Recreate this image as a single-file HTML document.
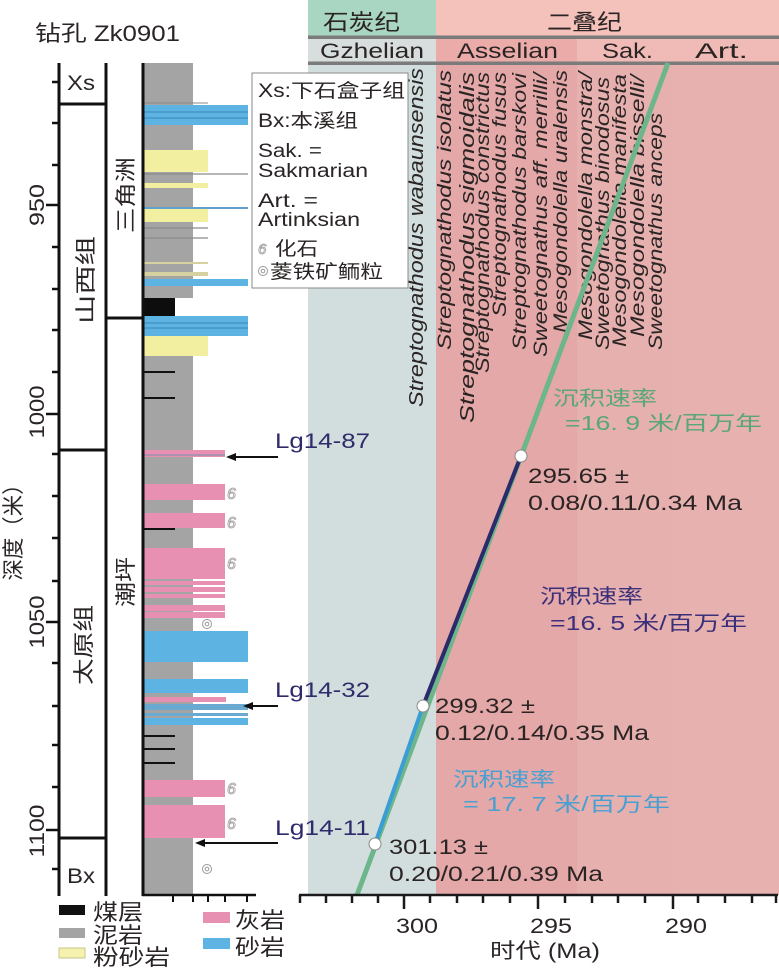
<!DOCTYPE html>
<html><head><meta charset="utf-8"><style>
html,body{margin:0;padding:0;background:#fff;}
svg{display:block;}
text{font-family:"Liberation Sans","Noto Sans CJK SC",sans-serif;}
.sp{font-style:italic;font-size:19px;fill:#2a2424;}
</style></head><body>
<svg width="779" height="969" viewBox="0 0 779 969" xmlns="http://www.w3.org/2000/svg">
<rect x="0" y="0" width="779" height="969" fill="#fff"/>

<!-- ===== Chart backgrounds ===== -->
<rect x="308" y="0" width="128" height="36" fill="#a9d6c3"/>
<rect x="436" y="0" width="343" height="36" fill="#f5c1bb"/>
<rect x="308" y="39" width="128" height="23" fill="#d8dede"/>
<rect x="436" y="39" width="141" height="23" fill="#eaaba9"/>
<rect x="577" y="39" width="96" height="23" fill="#f0bbb7"/>
<rect x="673" y="39" width="106" height="23" fill="#f0bbb7"/>
<rect x="308" y="64" width="128" height="831" fill="#d2dede"/>
<rect x="436" y="64" width="141" height="831" fill="#e3a8a7"/>
<rect x="577" y="64" width="96" height="831" fill="#e6b0ae"/>
<rect x="673" y="64" width="106" height="831" fill="#e6b1af"/>
<rect x="308" y="35.5" width="471" height="3.5" fill="#7b7b7b"/>
<rect x="308" y="61.5" width="471" height="3.5" fill="#7b7b7b"/>

<!-- header text -->
<text x="323" y="30" font-size="22" fill="#2a2424" textLength="77" lengthAdjust="spacingAndGlyphs">石炭纪</text>
<text x="547" y="30" font-size="22" fill="#2a2424" textLength="75" lengthAdjust="spacingAndGlyphs">二叠纪</text>
<text x="320" y="58" font-size="21" fill="#2a2424" textLength="104" lengthAdjust="spacingAndGlyphs">Gzhelian</text>
<text x="457" y="58" font-size="21" fill="#2a2424" textLength="101" lengthAdjust="spacingAndGlyphs">Asselian</text>
<text x="602" y="58" font-size="21" fill="#2a2424" textLength="51" lengthAdjust="spacingAndGlyphs">Sak.</text>
<text x="695" y="58" font-size="21" fill="#2a2424" textLength="53" lengthAdjust="spacingAndGlyphs">Art.</text>

<!-- species labels -->
<g class="sp">
<text transform="translate(423,407) rotate(-90)" font-size="20" textLength="339" lengthAdjust="spacingAndGlyphs">Streptognathodus wabaunsensis</text>
<text transform="translate(451,350) rotate(-90)" textLength="280" lengthAdjust="spacingAndGlyphs">Streptognathodus isolatus</text>
<text transform="translate(474,423) rotate(-90)" font-size="20" textLength="351" lengthAdjust="spacingAndGlyphs">Streptognathodus sigmoidalis</text>
<text transform="translate(489,373) rotate(-90)" textLength="301" lengthAdjust="spacingAndGlyphs">Streptognathodus constrictus</text>
<text transform="translate(506,317) rotate(-90)" textLength="245" lengthAdjust="spacingAndGlyphs">Streptognathodus fusus</text>
<text transform="translate(526,350) rotate(-90)" textLength="277" lengthAdjust="spacingAndGlyphs">Streptognathodus barskovi</text>
<text transform="translate(547,357) rotate(-90)" textLength="284" lengthAdjust="spacingAndGlyphs">Sweetognathus aff. merrilli/</text>
<text transform="translate(567,333) rotate(-90)" textLength="263" lengthAdjust="spacingAndGlyphs">Mesogondolella uralensis</text>
<text transform="translate(592,340) rotate(-90)" textLength="268" lengthAdjust="spacingAndGlyphs">Mesogondolella monstra/</text>
<text transform="translate(609,350) rotate(-90)" textLength="273" lengthAdjust="spacingAndGlyphs">Sweetognathus binodosus</text>
<text transform="translate(626,347) rotate(-90)" textLength="273" lengthAdjust="spacingAndGlyphs">Mesogondolella manifesta</text>
<text transform="translate(644,337) rotate(-90)" textLength="262" lengthAdjust="spacingAndGlyphs">Mesogondolella bisselli/</text>
<text transform="translate(662,350) rotate(-90)" textLength="237" lengthAdjust="spacingAndGlyphs">Sweetognathus anceps</text>
</g>

<!-- regression lines -->
<line x1="668" y1="63" x2="357" y2="895" stroke="#6db68b" stroke-width="5"/>
<line x1="521" y1="456" x2="423" y2="706" stroke="#2b2a6a" stroke-width="4"/>
<line x1="423" y1="706" x2="375" y2="844" stroke="#3a9dd4" stroke-width="4"/>
<circle cx="521" cy="456" r="6" fill="#fff" stroke="#8a8a8a" stroke-width="1"/>
<circle cx="423" cy="706" r="6" fill="#fff" stroke="#8a8a8a" stroke-width="1"/>
<circle cx="375" cy="844" r="6" fill="#fff" stroke="#8a8a8a" stroke-width="1"/>

<!-- date labels -->
<g font-size="21" fill="#2a2424">
<text x="528" y="483" textLength="101" lengthAdjust="spacingAndGlyphs">295.65 ±</text>
<text x="528" y="510" textLength="214" lengthAdjust="spacingAndGlyphs">0.08/0.11/0.34 Ma</text>
<text x="435" y="713" textLength="100" lengthAdjust="spacingAndGlyphs">299.32 ±</text>
<text x="435" y="740" textLength="214" lengthAdjust="spacingAndGlyphs">0.12/0.14/0.35 Ma</text>
<text x="389" y="854" textLength="99" lengthAdjust="spacingAndGlyphs">301.13 ±</text>
<text x="389" y="881" textLength="214" lengthAdjust="spacingAndGlyphs">0.20/0.21/0.39 Ma</text>
</g>

<!-- rate labels -->
<g font-size="20">
<text x="553" y="405" fill="#5aa67a" textLength="104" lengthAdjust="spacingAndGlyphs">沉积速率</text>
<text x="565" y="430" fill="#5aa67a" textLength="197" lengthAdjust="spacingAndGlyphs">=16. 9 米/百万年</text>
<text x="540" y="603" fill="#3b2f7a" textLength="103" lengthAdjust="spacingAndGlyphs">沉积速率</text>
<text x="550" y="630" fill="#3b2f7a" textLength="197" lengthAdjust="spacingAndGlyphs">=16. 5 米/百万年</text>
<text x="453" y="786" fill="#4a9fd2" textLength="102" lengthAdjust="spacingAndGlyphs">沉积速率</text>
<text x="463" y="811" fill="#4a9fd2" textLength="207" lengthAdjust="spacingAndGlyphs">= 17. 7 米/百万年</text>
</g>

<!-- x axis -->
<g stroke="#1a1a1a" stroke-width="2.5">
<line x1="299" y1="895" x2="778" y2="895"/>
<line x1="300" y1="895" x2="300" y2="903"/>
<line x1="326" y1="895" x2="326" y2="903"/>
<line x1="352" y1="895" x2="352" y2="903"/>
<line x1="378" y1="895" x2="378" y2="903"/>
<line x1="404" y1="895" x2="404" y2="909"/>
<line x1="430" y1="895" x2="430" y2="903"/>
<line x1="457" y1="895" x2="457" y2="903"/>
<line x1="483" y1="895" x2="483" y2="903"/>
<line x1="510" y1="895" x2="510" y2="903"/>
<line x1="538" y1="895" x2="538" y2="909"/>
<line x1="565" y1="895" x2="565" y2="903"/>
<line x1="592" y1="895" x2="592" y2="903"/>
<line x1="618" y1="895" x2="618" y2="903"/>
<line x1="645" y1="895" x2="645" y2="903"/>
<line x1="673" y1="895" x2="673" y2="909"/>
<line x1="698" y1="895" x2="698" y2="903"/>
<line x1="725" y1="895" x2="725" y2="903"/>
<line x1="752" y1="895" x2="752" y2="903"/>
<line x1="776" y1="895" x2="776" y2="903"/>
</g>
<g font-size="21" fill="#2a2424" text-anchor="middle">
<text x="417" y="933" textLength="42" lengthAdjust="spacingAndGlyphs">300</text>
<text x="551" y="933" textLength="42" lengthAdjust="spacingAndGlyphs">295</text>
<text x="686" y="933" textLength="42" lengthAdjust="spacingAndGlyphs">290</text>
<text x="545" y="958" textLength="110" lengthAdjust="spacingAndGlyphs">时代 (Ma)</text>
</g>

<!-- ===== Left: title ===== -->
<text x="35" y="41" font-size="22" fill="#2a2424" textLength="145" lengthAdjust="spacingAndGlyphs">钻孔 Zk0901</text>

<!-- depth axis -->
<g stroke="#111" stroke-width="3">
<line x1="59" y1="63" x2="59" y2="896"/>
<line x1="106" y1="63" x2="106" y2="896"/>
<line x1="59" y1="104" x2="106" y2="104"/>
<line x1="106" y1="318" x2="143" y2="318"/>
<line x1="59" y1="450" x2="106" y2="450"/>
<line x1="59" y1="838" x2="106" y2="838"/>
</g>
<g stroke="#111" stroke-width="2.5">
<line x1="52" y1="82" x2="59" y2="82"/>
<line x1="52" y1="123" x2="59" y2="123"/>
<line x1="52" y1="165" x2="59" y2="165"/>
<line x1="46" y1="205" x2="59" y2="205"/>
<line x1="52" y1="247" x2="59" y2="247"/>
<line x1="52" y1="289" x2="59" y2="289"/>
<line x1="52" y1="330" x2="59" y2="330"/>
<line x1="52" y1="372" x2="59" y2="372"/>
<line x1="46" y1="414" x2="59" y2="414"/>
<line x1="52" y1="454" x2="59" y2="454"/>
<line x1="52" y1="496" x2="59" y2="496"/>
<line x1="52" y1="538" x2="59" y2="538"/>
<line x1="52" y1="581" x2="59" y2="581"/>
<line x1="46" y1="622" x2="59" y2="622"/>
<line x1="52" y1="663" x2="59" y2="663"/>
<line x1="52" y1="706" x2="59" y2="706"/>
<line x1="52" y1="745" x2="59" y2="745"/>
<line x1="52" y1="787" x2="59" y2="787"/>
<line x1="46" y1="830" x2="59" y2="830"/>
<line x1="52" y1="869" x2="59" y2="869"/>
</g>
<g font-size="21" fill="#2a2424" text-anchor="middle">
<text transform="translate(44,205) rotate(-90)" textLength="42" lengthAdjust="spacingAndGlyphs">950</text>
<text transform="translate(44,412) rotate(-90)" textLength="53" lengthAdjust="spacingAndGlyphs">1000</text>
<text transform="translate(44,622) rotate(-90)" textLength="53" lengthAdjust="spacingAndGlyphs">1050</text>
<text transform="translate(44,831) rotate(-90)" textLength="53" lengthAdjust="spacingAndGlyphs">1100</text>
<text transform="translate(21,527) rotate(-90)" font-size="22" textLength="107" lengthAdjust="spacingAndGlyphs">深度（米）</text>
<text transform="translate(93,280) rotate(-90)" textLength="88" lengthAdjust="spacingAndGlyphs">山西组</text>
<text transform="translate(91,645) rotate(-90)" textLength="80" lengthAdjust="spacingAndGlyphs">太原组</text>
<text transform="translate(133,195) rotate(-90)" textLength="76" lengthAdjust="spacingAndGlyphs">三角洲</text>
<text transform="translate(133,582) rotate(-90)" textLength="50" lengthAdjust="spacingAndGlyphs">潮坪</text>
</g>
<text x="67" y="90" font-size="21" fill="#2a2424" textLength="28" lengthAdjust="spacingAndGlyphs">Xs</text>
<text x="67" y="883" font-size="21" fill="#2a2424" textLength="28" lengthAdjust="spacingAndGlyphs">Bx</text>

<!-- ===== Lithology column ===== -->
<rect x="144" y="63" width="49" height="235" fill="#a4a4a4"/>
<rect x="144" y="316" width="49" height="579" fill="#a4a4a4"/>
<rect x="144" y="298" width="31" height="18" fill="#0d0d0d"/>
<!-- upper beds -->
<line x1="144" y1="103" x2="208" y2="103" stroke="#8a8a8a" stroke-width="1"/>
<rect x="144" y="105" width="104" height="20" fill="#5db4e2"/>
<line x1="144" y1="112" x2="248" y2="112" stroke="#3f8fc0" stroke-width="1.2"/>
<line x1="144" y1="118" x2="248" y2="118" stroke="#3f8fc0" stroke-width="1.2"/>
<rect x="144" y="150" width="64" height="22" fill="#f3efa0"/>
<line x1="144" y1="174" x2="248" y2="174" stroke="#8a8a8a" stroke-width="1.2"/>
<rect x="144" y="183" width="64" height="5" fill="#f3efa0"/>
<rect x="144" y="207" width="64" height="15" fill="#f3efa0"/>
<line x1="144" y1="208" x2="248" y2="208" stroke="#5fa3cc" stroke-width="2"/>
<line x1="144" y1="228" x2="208" y2="228" stroke="#8a8a8a" stroke-width="1.2"/>
<line x1="144" y1="238" x2="208" y2="238" stroke="#8a8a8a" stroke-width="1.2"/>
<rect x="144" y="262" width="64" height="2" fill="#d6d2a0"/>
<rect x="144" y="272" width="64" height="4" fill="#d6d2a0"/>
<rect x="144" y="279" width="104" height="7" fill="#5db4e2"/>
<rect x="144" y="316" width="104" height="20" fill="#5db4e2"/>
<line x1="144" y1="323" x2="248" y2="323" stroke="#3f8fc0" stroke-width="1.2"/>
<line x1="144" y1="328" x2="248" y2="328" stroke="#3f8fc0" stroke-width="1.2"/>
<rect x="144" y="336" width="64" height="20" fill="#f3efa0"/>
<line x1="144" y1="372" x2="175" y2="372" stroke="#111" stroke-width="2"/>
<line x1="144" y1="398" x2="175" y2="398" stroke="#111" stroke-width="2"/>
<!-- lower beds -->
<rect x="144" y="450" width="81" height="7" fill="#e890b2"/>
<line x1="144" y1="455" x2="225" y2="455" stroke="#8a8fb0" stroke-width="1.2"/>
<rect x="144" y="484" width="81" height="16" fill="#e890b2"/>
<rect x="144" y="513" width="81" height="15" fill="#e890b2"/>
<line x1="144" y1="529" x2="175" y2="529" stroke="#111" stroke-width="2"/>
<rect x="144" y="548" width="81" height="31" fill="#e890b2"/>
<rect x="144" y="581" width="81" height="4" fill="#e890b2"/>
<rect x="144" y="587" width="81" height="5" fill="#e890b2"/>
<rect x="144" y="594" width="81" height="4" fill="#e890b2"/>
<rect x="144" y="605" width="81" height="6" fill="#e890b2"/>
<rect x="144" y="612" width="81" height="6" fill="#e890b2"/>
<rect x="144" y="631" width="104" height="31" fill="#5db4e2"/>
<rect x="144" y="679" width="104" height="14" fill="#5db4e2"/>
<rect x="144" y="697" width="82" height="5" fill="#e890b2"/>
<rect x="144" y="704" width="104" height="6" fill="#6aaad0"/>
<rect x="144" y="713" width="104" height="3" fill="#6aaad0"/>
<rect x="144" y="718" width="104" height="7" fill="#5db4e2"/>
<line x1="144" y1="736" x2="175" y2="736" stroke="#111" stroke-width="2"/>
<line x1="144" y1="749" x2="175" y2="749" stroke="#111" stroke-width="2"/>
<line x1="144" y1="763" x2="175" y2="763" stroke="#111" stroke-width="2"/>
<rect x="144" y="780" width="81" height="17" fill="#e890b2"/>
<rect x="144" y="805" width="81" height="33" fill="#e890b2"/>
<!-- column border -->
<line x1="143" y1="63" x2="143" y2="896" stroke="#111" stroke-width="3"/>
<line x1="142" y1="895" x2="256" y2="895" stroke="#111" stroke-width="2.5"/>
<g stroke="#111" stroke-width="2">
<line x1="173" y1="895" x2="173" y2="902"/>
<line x1="193" y1="895" x2="193" y2="902"/>
<line x1="208" y1="895" x2="208" y2="902"/>
<line x1="225" y1="895" x2="225" y2="902"/>
<line x1="247" y1="895" x2="247" y2="902"/>
</g>
<!-- fossil & oolite symbols -->
<g font-size="16" font-style="italic" fill="none" stroke="#9a9a9a" stroke-width="0.8">
<text x="227" y="499">6</text>
<text x="227" y="528">6</text>
<text x="227" y="569">6</text>
<text x="227" y="794">6</text>
<text x="227" y="829">6</text>
</g>
<g fill="none" stroke="#9a9a9a" stroke-width="1">
<circle cx="207" cy="624" r="4.5"/><circle cx="207" cy="624" r="1.8"/>
<circle cx="207" cy="869" r="4.5"/><circle cx="207" cy="869" r="1.8"/>
</g>

<!-- sample arrows -->
<g stroke="#111" stroke-width="2">
<line x1="234" y1="457" x2="278" y2="457"/>
<line x1="250" y1="706" x2="278" y2="706"/>
<line x1="202" y1="843" x2="278" y2="843"/>
</g>
<polygon points="226,457 236,453 236,461" fill="#111"/>
<polygon points="243,706 253,702 253,710" fill="#111"/>
<polygon points="195,843 205,839 205,847" fill="#111"/>
<g font-size="21" fill="#2f2b6b">
<text x="275" y="448" textLength="95" lengthAdjust="spacingAndGlyphs">Lg14-87</text>
<text x="275" y="697" textLength="95" lengthAdjust="spacingAndGlyphs">Lg14-32</text>
<text x="275" y="835" textLength="95" lengthAdjust="spacingAndGlyphs">Lg14-11</text>
</g>

<!-- legend box -->
<rect x="252" y="73" width="156" height="215" fill="#fff" stroke="#8a8a8a" stroke-width="1"/>
<g font-size="19" fill="#2a2424">
<text x="258" y="97" textLength="147" lengthAdjust="spacingAndGlyphs">Xs:下石盒子组</text>
<text x="258" y="127" textLength="100" lengthAdjust="spacingAndGlyphs">Bx:本溪组</text>
<text x="258" y="157" textLength="64" lengthAdjust="spacingAndGlyphs">Sak. =</text>
<text x="258" y="177" textLength="110" lengthAdjust="spacingAndGlyphs">Sakmarian</text>
<text x="258" y="207" textLength="60" lengthAdjust="spacingAndGlyphs">Art. =</text>
<text x="258" y="226" textLength="102" lengthAdjust="spacingAndGlyphs">Artinksian</text>
<text x="275" y="255" textLength="43" lengthAdjust="spacingAndGlyphs">化石</text>
<text x="270" y="278" textLength="113" lengthAdjust="spacingAndGlyphs">菱铁矿鲕粒</text>
</g>
<text x="258" y="254" font-size="15" font-style="italic" fill="none" stroke="#9a9a9a" stroke-width="0.8">6</text>
<circle cx="263" cy="271" r="4.5" fill="none" stroke="#9a9a9a" stroke-width="1"/>
<circle cx="263" cy="271" r="1.8" fill="none" stroke="#9a9a9a" stroke-width="1"/>

<!-- bottom lithology legend -->
<rect x="59" y="905" width="26" height="10" fill="#111"/>
<rect x="59" y="928" width="26" height="10" fill="#a4a4a4"/>
<rect x="59" y="948" width="26" height="10" fill="#f5f2b0" stroke="#c9c48a" stroke-width="1"/>
<rect x="203" y="912" width="27" height="11" fill="#e890b2"/>
<rect x="203" y="938" width="27" height="11" fill="#5db4e2"/>
<g font-size="22" fill="#2a2424">
<text x="93" y="920" textLength="50" lengthAdjust="spacingAndGlyphs">煤层</text>
<text x="93" y="943" textLength="50" lengthAdjust="spacingAndGlyphs">泥岩</text>
<text x="93" y="965" textLength="77" lengthAdjust="spacingAndGlyphs">粉砂岩</text>
<text x="235" y="928" textLength="50" lengthAdjust="spacingAndGlyphs">灰岩</text>
<text x="235" y="955" textLength="50" lengthAdjust="spacingAndGlyphs">砂岩</text>
</g>
</svg>
</body></html>
